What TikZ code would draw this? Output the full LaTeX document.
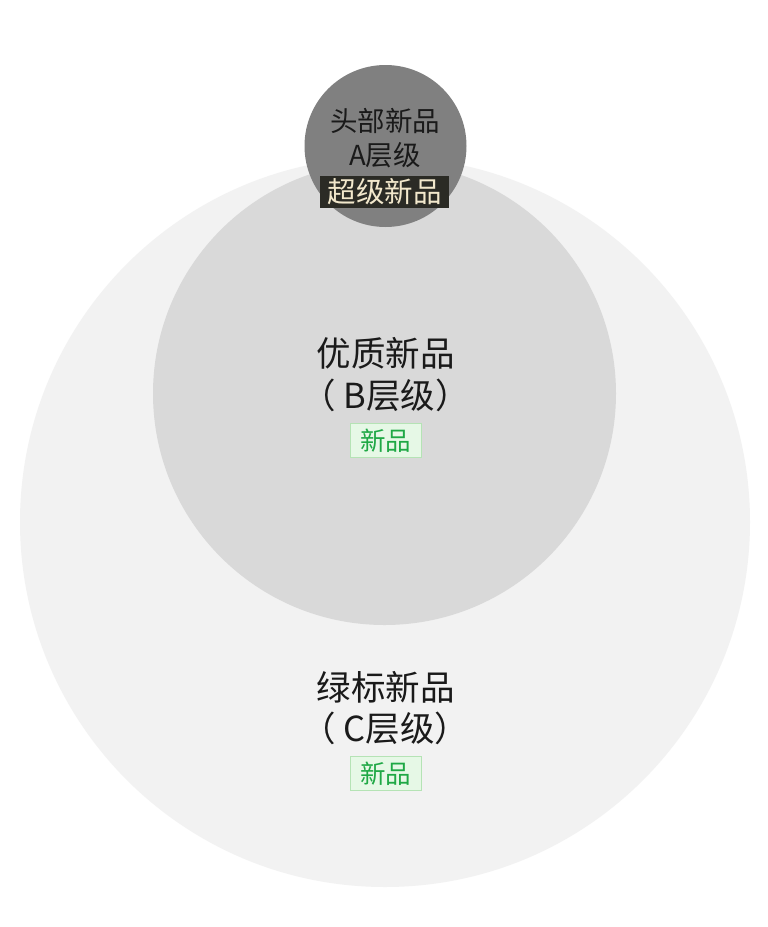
\documentclass[tikz,border=0pt]{standalone}
\usepackage{fontspec}
\setmainfont{Noto Sans CJK SC}
\definecolor{outerc}{HTML}{F2F2F2}
\definecolor{midc}{HTML}{D9D9D9}
\definecolor{topc}{HTML}{808080}
\definecolor{txtc}{HTML}{1A1A1A}
\definecolor{darkbox}{HTML}{2B2B25}
\definecolor{cream}{HTML}{F2E8CC}
\definecolor{greenbg}{HTML}{E6F8E6}
\definecolor{greenline}{HTML}{B5E3B5}
\definecolor{greentxt}{HTML}{1FA845}
\tikzset{
  disc/.style={circle, inner sep=0pt, draw=none},
  bigtxt/.style={text=txtc, inner sep=0pt, font=\fontsize{34.5}{40}\selectfont},
  toptxt/.style={text=txtc, inner sep=0pt, font=\fontsize{27.5}{32}\selectfont},
  supertag/.style={fill=darkbox, text=cream, inner sep=0pt, minimum width=129pt, minimum height=32pt, font=\fontsize{28.5}{32}\selectfont},
  newtag/.style={fill=greenbg, draw=greenline, line width=0.6pt, text=greentxt, inner sep=0pt, minimum width=71pt, minimum height=34pt, font=\fontsize{25.5}{30}\selectfont}
}
\begin{document}
\begin{tikzpicture}[x=1pt, y=-1pt]
\useasboundingbox (0,0) rectangle (768,927);
\fill[white] (0,0) rectangle (768,927);
\node[disc, fill=outerc, minimum size=730pt] (outer) at (385,522) {};
\node[disc, fill=midc, minimum size=463pt] (mid) at (384.5,393.5) {};
\node[disc, fill=topc, minimum size=162pt] (top) at (385.5,146) {};
% top circle
\node[toptxt] (a1) at (385,121) {头部新品};
\node[toptxt] (a2) at (385,155) {A层级};
\node[supertag] (atag) at (384.5,192) {超级新品};
% middle circle
\node[bigtxt] (b1) at (385.5,353) {优质新品};
\node[bigtxt] (b2) at (385.5,395) {（ B层级）};
\node[newtag] (btag) at (385.5,440.5) {新品};
% outer circle
\node[bigtxt] (c1) at (385.5,687) {绿标新品};
\node[bigtxt] (c2) at (385.5,728) {（ C层级）};
\node[newtag] (ctag) at (385.5,773.5) {新品};
\end{tikzpicture}
\end{document}
